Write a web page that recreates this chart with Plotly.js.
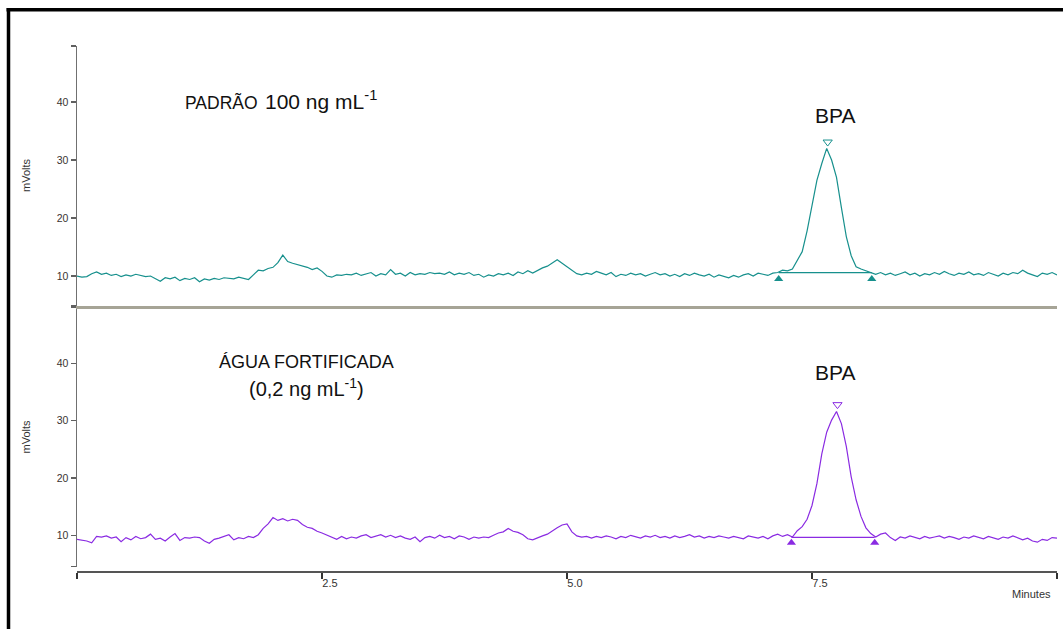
<!DOCTYPE html>
<html>
<head>
<meta charset="utf-8">
<script src="https://cdn.plot.ly/plotly-3.0.1.min.js"></script>
<style>html,body{margin:0;padding:0;background:#fff;}#chart{width:1063px;height:629px;}</style>
</head>
<body>
<div id="chart"></div>
<script>
// Retention time grid (minutes)
const time = [
 0.00,0.05,0.10,0.15,0.20,0.25,0.30,0.35,0.40,0.45,0.50,0.55,0.60,0.65,0.70,0.75,0.80,0.85,0.90,0.95,
 1.00,1.05,1.10,1.15,1.20,1.25,1.30,1.35,1.40,1.45,1.50,1.55,1.60,1.65,1.70,1.75,1.80,1.85,1.90,1.95,
 2.00,2.05,2.10,2.15,2.20,2.25,2.30,2.35,2.40,2.45,2.50,2.55,2.60,2.65,2.70,2.75,2.80,2.85,2.90,2.95,
 3.00,3.05,3.10,3.15,3.20,3.25,3.30,3.35,3.40,3.45,3.50,3.55,3.60,3.65,3.70,3.75,3.80,3.85,3.90,3.95,
 4.00,4.05,4.10,4.15,4.20,4.25,4.30,4.35,4.40,4.45,4.50,4.55,4.60,4.65,4.70,4.75,4.80,4.85,4.90,4.95,
 5.00,5.05,5.10,5.15,5.20,5.25,5.30,5.35,5.40,5.45,5.50,5.55,5.60,5.65,5.70,5.75,5.80,5.85,5.90,5.95,
 6.00,6.05,6.10,6.15,6.20,6.25,6.30,6.35,6.40,6.45,6.50,6.55,6.60,6.65,6.70,6.75,6.80,6.85,6.90,6.95,
 7.00,7.05,7.10,7.15,7.20,7.25,7.30,7.35,7.40,7.45,7.50,7.55,7.60,7.65,7.70,7.75,7.80,7.85,7.90,7.95,
 8.00,8.05,8.10,8.15,8.20,8.25,8.30,8.35,8.40,8.45,8.50,8.55,8.60,8.65,8.70,8.75,8.80,8.85,8.90,8.95,
 9.00,9.05,9.10,9.15,9.20,9.25,9.30,9.35,9.40,9.45,9.50,9.55,9.60,9.65,9.70,9.75,9.80,9.85,9.90,9.95,
 10.00
];

// Top chromatogram: PADRÃO 100 ng mL-1 (mV)
const padraoSignal = [
 10.0,9.8,9.9,10.4,10.7,10.3,10.5,10.1,10.3,9.9,10.2,10.0,10.3,10.1,9.9,10.0,9.6,9.1,9.7,9.5,
 9.8,9.2,9.6,9.4,9.7,9.0,9.5,9.3,9.6,9.4,9.7,9.6,9.5,9.8,9.6,9.4,10.2,11.0,10.9,11.3,
 11.5,12.3,13.6,12.5,12.2,12.0,11.7,11.5,11.1,11.4,10.8,10.0,9.8,10.2,10.1,10.3,10.2,10.5,10.1,10.4,
 10.6,10.0,10.4,10.2,11.1,10.3,10.5,10.0,10.6,10.2,10.4,10.3,10.6,10.4,10.5,10.3,10.7,10.2,10.5,10.3,
 10.6,10.1,10.3,9.8,10.2,10.0,10.4,10.2,10.5,10.1,10.7,10.4,10.9,10.5,11.0,11.4,11.7,12.2,12.8,12.2,
 11.6,11.0,10.4,10.2,10.5,10.3,10.8,10.5,10.2,10.6,9.9,10.3,10.1,10.5,10.2,10.4,10.0,10.3,10.6,10.2,
 10.4,10.0,10.3,9.9,10.4,10.1,10.5,10.2,10.0,10.3,9.8,10.2,9.9,9.7,10.1,9.8,10.2,10.4,10.0,10.5,
 10.3,10.1,10.5,10.6,11.0,10.9,11.2,12.6,14.2,17.8,22.3,26.5,29.4,32.0,30.0,27.0,21.8,16.8,13.5,11.6,
 11.2,10.9,10.6,10.3,10.6,10.2,10.5,10.1,10.4,10.7,10.2,10.5,10.0,10.4,10.2,10.6,10.3,10.8,10.4,10.1,
 10.5,10.3,10.7,10.2,10.4,10.1,10.6,10.3,10.0,10.5,10.2,10.6,10.4,11.0,10.5,10.2,9.9,10.5,10.3,10.6,
 10.2
];

// Bottom chromatogram: ÁGUA FORTIFICADA 0,2 ng mL-1 (mV)
const aguaSignal = [
 9.3,9.2,9.0,8.7,9.8,9.7,9.9,9.5,9.7,8.9,9.6,9.2,9.8,9.4,9.6,10.2,9.3,9.5,9.0,9.7,
 10.3,9.1,9.6,9.5,9.7,9.6,9.0,8.6,9.3,9.5,9.8,10.1,9.2,9.6,9.4,9.8,9.6,10.1,11.2,12.0,
 13.1,12.6,12.9,12.5,12.8,12.6,11.9,11.4,11.2,10.7,10.4,10.0,9.6,9.3,9.8,9.4,9.7,9.5,9.9,10.1,
 9.6,9.8,10.1,9.7,10.0,9.6,9.9,9.5,9.3,9.7,8.9,9.6,9.8,9.5,10.0,9.6,9.8,9.4,9.9,9.7,
 9.3,9.7,9.5,9.7,9.6,10.0,10.4,10.6,11.2,10.7,10.5,10.1,9.4,9.2,9.6,9.9,10.2,10.8,11.3,11.8,
 12.0,10.6,9.9,9.7,9.8,9.5,9.8,9.6,9.9,9.7,9.4,9.8,9.6,10.0,9.7,9.5,9.9,9.7,10.0,9.6,
 9.8,9.5,9.9,9.6,9.8,10.1,9.7,9.9,9.5,9.8,9.6,9.9,9.7,9.5,9.8,9.6,9.4,9.9,9.7,9.5,
 9.8,9.4,9.9,10.2,9.8,10.1,9.7,10.8,11.5,12.8,15.2,19.0,24.2,28.0,30.1,31.6,29.5,25.5,20.2,16.2,
 13.3,11.3,10.3,9.7,10.2,10.4,9.6,9.1,9.7,9.5,9.9,9.6,9.4,9.8,9.5,9.7,9.9,9.5,9.8,9.6,
 9.3,9.7,9.5,9.9,9.6,9.4,9.8,9.6,9.3,9.7,9.5,9.9,9.6,9.2,9.5,9.0,8.8,9.3,9.1,9.6,
 9.5
];

// Peak integration marks
const padraoApex = {t: 7.66, mv: 33.1};
const padraoBaseT = [7.16, 8.11];
const padraoBaseMv = [10.57, 10.57];
const padraoBaseMarkMv = [9.5, 9.5];

const aguaApex = {t: 7.76, mv: 32.8};
const aguaBaseT = [7.29, 8.14];
const aguaBaseMv = [9.65, 9.65];
const aguaBaseMarkMv = [8.7, 8.7];

// Axis ticks
const yTickVals = [10, 20, 30, 40];
const xTickVals = [0, 2.5, 5.0, 7.5, 10];
const xTickText = ['', '2.5', '5.0', '7.5', ''];

const topRange = [4.83, 49.66];
const botRange = [4.52, 49.84];

const teal = '#17908d';
const purple = '#8a2be2';
const FONT = 'Liberation Sans, Arial, sans-serif';
const W = 1063, H = 629;
const px = v => v / W;
const py = v => (H - v) / H;

const traces = [
  {x: time, y: padraoSignal, xaxis: 'x2', yaxis: 'y2', mode: 'lines', line: {color: teal, width: 1.2}},
  {x: padraoBaseT, y: padraoBaseMv, xaxis: 'x2', yaxis: 'y2', mode: 'lines', line: {color: teal, width: 1.2}},
  {x: padraoBaseT, y: padraoBaseMarkMv, xaxis: 'x2', yaxis: 'y2', mode: 'markers', marker: {symbol: 'triangle-up', size: 8, color: teal}},
  {x: [padraoApex.t], y: [padraoApex.mv], xaxis: 'x2', yaxis: 'y2', mode: 'markers', marker: {symbol: 'triangle-down-open', size: 8, color: teal, line: {width: 1}}},

  {x: time, y: aguaSignal, xaxis: 'x', yaxis: 'y', mode: 'lines', line: {color: purple, width: 1.2}},
  {x: aguaBaseT, y: aguaBaseMv, xaxis: 'x', yaxis: 'y', mode: 'lines', line: {color: purple, width: 1.2}},
  {x: aguaBaseT, y: aguaBaseMarkMv, xaxis: 'x', yaxis: 'y', mode: 'markers', marker: {symbol: 'triangle-up', size: 8, color: purple}},
  {x: [aguaApex.t], y: [aguaApex.mv], xaxis: 'x', yaxis: 'y', mode: 'markers', marker: {symbol: 'triangle-down-open', size: 8, color: purple, line: {width: 1}}}
];

const yCommon = {
  showline: true, linecolor: '#707070', linewidth: 1.5,
  ticks: 'outside', ticklen: 5, tickcolor: '#606060', tickwidth: 1.3,
  showgrid: false, zeroline: false,
  tickfont: {family: FONT, size: 10.5, color: '#3a3330'}
};

const layout = {
  width: W, height: H,
  margin: {l: 0, r: 0, t: 0, b: 0},
  paper_bgcolor: '#ffffff', plot_bgcolor: 'rgba(0,0,0,0)',
  showlegend: false,
  font: {family: FONT},
  xaxis: {
    domain: [px(77), px(1057)], range: [0, 10], anchor: 'free', position: py(571),
    showline: true, linecolor: '#555555', linewidth: 1.5,
    ticks: 'outside', ticklen: 6, tickcolor: '#333', tickwidth: 1.3,
    tickvals: xTickVals, ticktext: xTickText,
    tickfont: {family: FONT, size: 11, color: '#333'},
    ticklabelshift: 8, ticklabelstandoff: -5,
    showgrid: false, zeroline: false
  },
  yaxis: Object.assign({}, yCommon, {
    domain: [py(566.7), py(307)], range: botRange, anchor: 'x',
    tickvals: [botRange[0]].concat(yTickVals, [botRange[1]]),
    ticktext: [''].concat(yTickVals.map(String), [''])
  }),
  xaxis2: {
    domain: [px(77), px(1057)], range: [0, 10], anchor: 'y2',
    showline: true, linecolor: '#a6a496', linewidth: 2.5,
    ticks: '', showticklabels: false, showgrid: false, zeroline: false
  },
  yaxis2: Object.assign({}, yCommon, {
    domain: [py(306), py(46)], range: topRange, anchor: 'x2',
    tickvals: [topRange[0]].concat(yTickVals, [topRange[1]]),
    ticktext: [''].concat(yTickVals.map(String), [''])
  }),
  annotations: [
    {xref: 'paper', yref: 'paper', x: px(183), y: py(114.5), xanchor: 'left', yanchor: 'bottom', showarrow: false,
     text: 'PADRÃO', font: {family: FONT, size: 17.5, color: '#111'}},
    {xref: 'paper', yref: 'paper', x: px(263), y: py(115), xanchor: 'left', yanchor: 'bottom', showarrow: false,
     text: '100 ng mL<sup>-1</sup>', font: {family: FONT, size: 21, color: '#111'}},
    {xref: 'paper', yref: 'paper', x: px(835), y: py(116), xanchor: 'center', yanchor: 'middle', showarrow: false,
     text: 'BPA', font: {family: FONT, size: 21, color: '#111'}},
    {xref: 'paper', yref: 'paper', x: px(306), y: py(362), xanchor: 'center', yanchor: 'middle', showarrow: false,
     text: 'ÁGUA FORTIFICADA', font: {family: FONT, size: 18, color: '#111'}},
    {xref: 'paper', yref: 'paper', x: px(306), y: py(387), xanchor: 'center', yanchor: 'middle', showarrow: false,
     text: '(0,2 ng mL<sup>-1</sup>)', font: {family: FONT, size: 20, color: '#111'}},
    {xref: 'paper', yref: 'paper', x: px(835), y: py(372), xanchor: 'center', yanchor: 'middle', showarrow: false,
     text: 'BPA', font: {family: FONT, size: 21, color: '#111'}},
    {xref: 'paper', yref: 'paper', x: px(25.5), y: py(175.5), xanchor: 'center', yanchor: 'middle', showarrow: false, textangle: -90,
     text: 'mVolts', font: {family: FONT, size: 11, color: '#333'}},
    {xref: 'paper', yref: 'paper', x: px(25.5), y: py(437), xanchor: 'center', yanchor: 'middle', showarrow: false, textangle: -90,
     text: 'mVolts', font: {family: FONT, size: 11, color: '#333'}},
    {xref: 'paper', yref: 'paper', x: px(1053), y: py(594), xanchor: 'right', yanchor: 'middle', showarrow: false,
     text: 'Minutes', font: {family: FONT, size: 11, color: '#333'}}
  ],
  shapes: [
    {type: 'line', xref: 'paper', yref: 'paper', x0: px(6.5), x1: 1, y0: py(9.8), y1: py(9.8), line: {color: '#000', width: 3.5}},
    {type: 'line', xref: 'paper', yref: 'paper', x0: px(8.5), x1: px(8.5), y0: 0, y1: py(8.1), line: {color: '#000', width: 3.5}}
  ]
};

Plotly.newPlot('chart', traces, layout, {displayModeBar: false, staticPlot: true});
</script>
</body>
</html>
